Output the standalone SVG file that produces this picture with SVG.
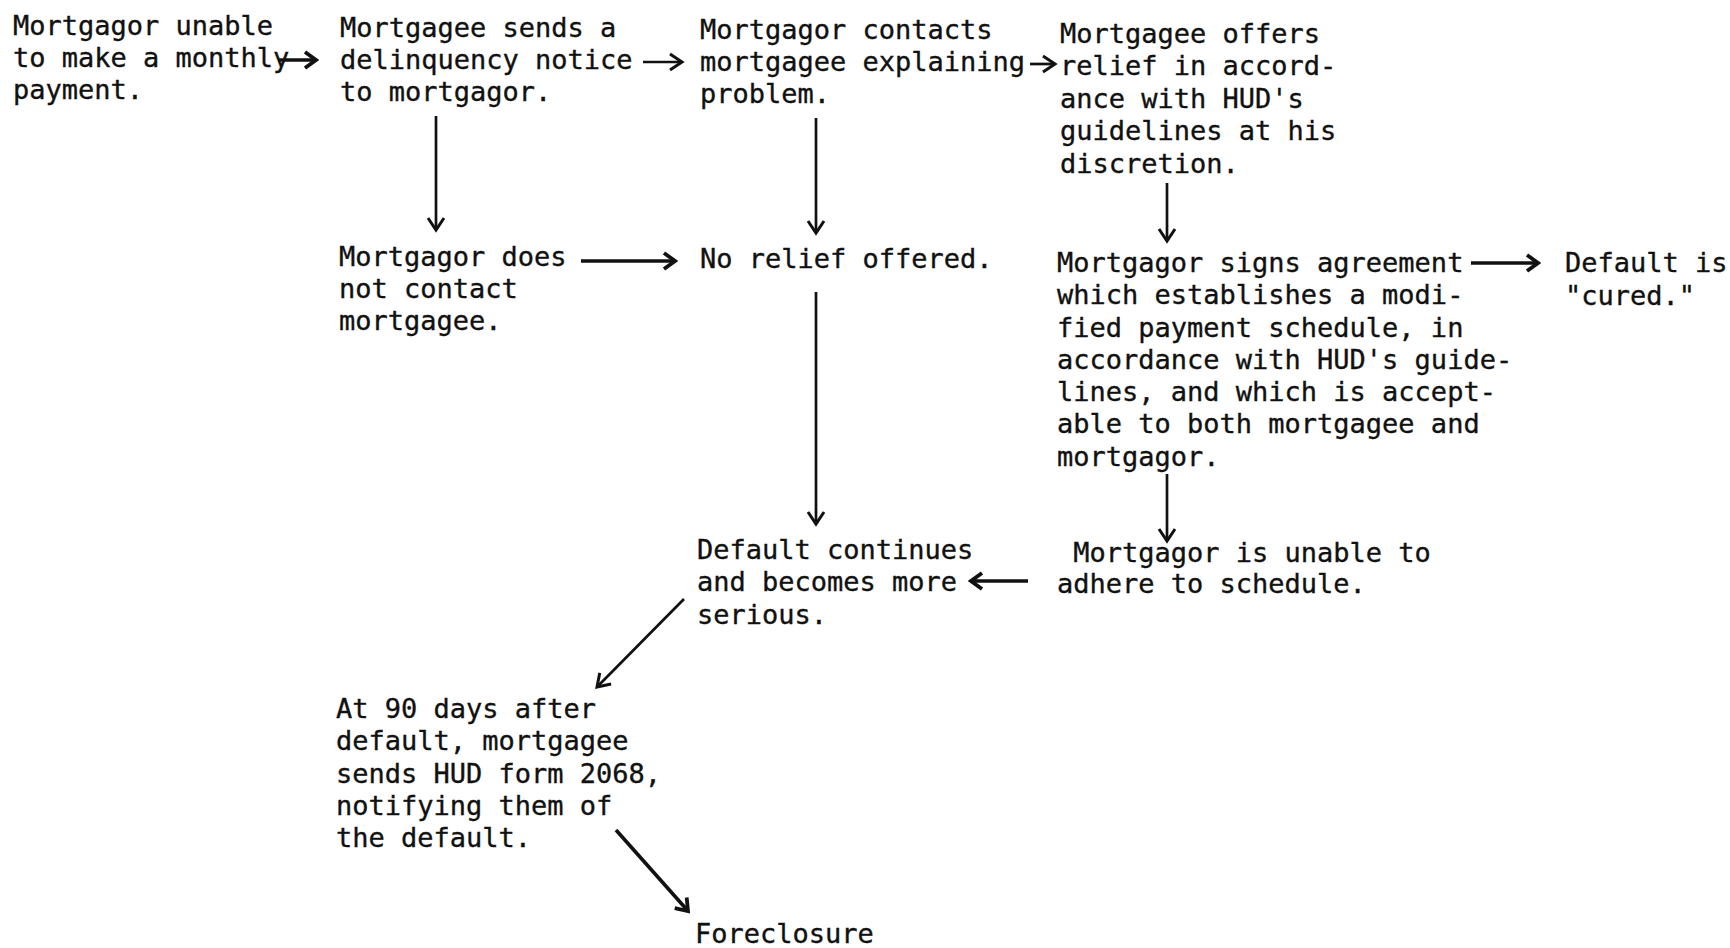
<svg xmlns="http://www.w3.org/2000/svg" width="1730" height="948" viewBox="0 0 1730 948">
<style>
text{font-family:"DejaVu Sans Mono","Liberation Mono",monospace;font-size:27px;fill:#111;stroke:#111;stroke-width:0.35;white-space:pre}
.c line{stroke:#111;stroke-width:2.7;fill:none;marker-end:url(#ah)}
.c line.b{stroke-width:3.6;marker-end:url(#ahb)}
</style>
<defs>
<marker id="ah" viewBox="-15 -11 18 22" refX="0" refY="0" markerWidth="18" markerHeight="22" markerUnits="userSpaceOnUse" orient="auto">
<path d="M-12,-8 L0,0 L-12,8" fill="none" stroke="#111" stroke-width="3"/>
</marker>
<marker id="ahb" viewBox="-15 -11 18 22" refX="0" refY="0" markerWidth="18" markerHeight="22" markerUnits="userSpaceOnUse" orient="auto">
<path d="M-11,-8 L0,0 L-11,8" fill="none" stroke="#111" stroke-width="3.8"/>
</marker>
</defs>
<rect width="1730" height="948" fill="#fff"/>
<g id="n1"><text x="13" y="35">Mortgagor unable</text><text x="13" y="67">to make a monthly</text><text x="13" y="99">payment.</text></g>
<g id="n2"><text x="340" y="37">Mortgagee sends a</text><text x="340" y="69">delinquency notice</text><text x="340" y="101">to mortgagor.</text></g>
<g id="n3"><text x="700" y="39">Mortgagor contacts</text><text x="700" y="71">mortgagee explaining</text><text x="700" y="103">problem.</text></g>
<g id="n4"><text x="1060" y="43">Mortgagee offers</text><text x="1060" y="75">relief in accord-</text><text x="1060" y="108">ance with HUD's</text><text x="1060" y="140">guidelines at his</text><text x="1060" y="173">discretion.</text></g>
<g id="n5"><text x="339" y="266">Mortgagor does</text><text x="339" y="298">not contact</text><text x="339" y="330">mortgagee.</text></g>
<g id="n6"><text x="700" y="268">No relief offered.</text></g>
<g id="n7"><text x="1057" y="272">Mortgagor signs agreement</text><text x="1057" y="304">which establishes a modi-</text><text x="1057" y="337">fied payment schedule, in</text><text x="1057" y="369">accordance with HUD's guide-</text><text x="1057" y="401">lines, and which is accept-</text><text x="1057" y="433">able to both mortgagee and</text><text x="1057" y="466">mortgagor.</text></g>
<g id="n8"><text x="1565" y="272">Default is</text><text x="1565" y="305">"cured."</text></g>
<g id="n9"><text x="697" y="559">Default continues</text><text x="697" y="591">and becomes more</text><text x="697" y="624">serious.</text></g>
<g id="n10"><text x="1057" y="562"> Mortgagor is unable to</text><text x="1057" y="593">adhere to schedule.</text></g>
<g id="n11"><text x="336" y="718">At 90 days after</text><text x="336" y="750">default, mortgagee</text><text x="336" y="783">sends HUD form 2068,</text><text x="336" y="815">notifying them of</text><text x="336" y="847">the default.</text></g>
<g id="n12"><text x="695" y="943">Foreclosure</text></g>
<g id="connectors" class="c">
<line class="b" x1="278" y1="60" x2="316" y2="60"/>
<line x1="643" y1="62" x2="682" y2="62"/>
<line x1="1030" y1="64" x2="1055" y2="64"/>
<line x1="436" y1="116" x2="436" y2="230"/>
<line class="b" x1="581" y1="261" x2="675" y2="261"/>
<line x1="816" y1="118" x2="816" y2="233"/>
<line x1="1167" y1="183" x2="1167" y2="241"/>
<line class="b" x1="1471" y1="263" x2="1538" y2="263"/>
<line x1="816" y1="292" x2="816" y2="524"/>
<line x1="1167" y1="474" x2="1167" y2="541"/>
<line class="b" x1="1028" y1="581" x2="971" y2="581"/>
<line x1="684" y1="599" x2="597" y2="687"/>
<line class="b" x1="616" y1="830" x2="688" y2="911"/>
</g>
</svg>
